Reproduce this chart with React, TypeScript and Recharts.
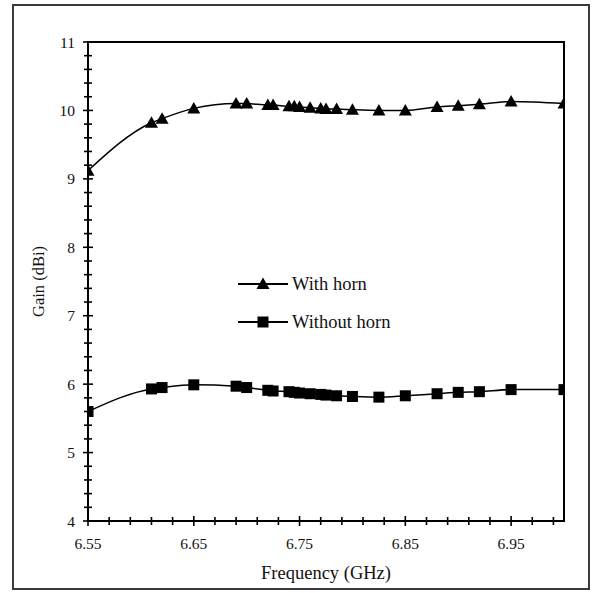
import React from 'react';
import { LineChart, Line, XAxis, YAxis, ReferenceArea, Legend, Label } from 'recharts';

const frequencies = [6.55, 6.61, 6.62, 6.65, 6.69, 6.7, 6.72, 6.725, 6.74, 6.745, 6.75, 6.76, 6.77, 6.775, 6.785, 6.8, 6.825, 6.85, 6.88, 6.9, 6.92, 6.95, 7.0];
const gainWithHorn = [9.12, 9.82, 9.88, 10.03, 10.1, 10.1, 10.08, 10.08, 10.06, 10.06, 10.05, 10.04, 10.03, 10.02, 10.02, 10.01, 10.0, 10.0, 10.05, 10.07, 10.09, 10.13, 10.1];
const gainWithoutHorn = [5.6, 5.93, 5.95, 5.99, 5.97, 5.95, 5.91, 5.9, 5.89, 5.88, 5.87, 5.86, 5.85, 5.84, 5.83, 5.82, 5.81, 5.83, 5.86, 5.88, 5.89, 5.92, 5.92];

const seriesNames = ['With horn', 'Without horn'];
const xMajorTicks = [6.55, 6.65, 6.75, 6.85, 6.95];
const xMinorTicks = [6.55, 6.57, 6.59, 6.61, 6.63, 6.65, 6.67, 6.69, 6.71, 6.73, 6.75, 6.77, 6.79, 6.81, 6.83, 6.85, 6.87, 6.89, 6.91, 6.93, 6.95, 6.97, 6.99];
const yMajorTicks = [4, 5, 6, 7, 8, 9, 10, 11];
const yMinorTicks = [4, 4.2, 4.4, 4.6, 4.8, 5, 5.2, 5.4, 5.6, 5.8, 6, 6.2, 6.4, 6.6, 6.8, 7, 7.2, 7.4, 7.6, 7.8, 8, 8.2, 8.4, 8.6, 8.8, 9, 9.2, 9.4, 9.6, 9.8, 10, 10.2, 10.4, 10.6, 10.8, 11];

const data = frequencies.map((f, i) => ({ freq: f, withHorn: gainWithHorn[i], withoutHorn: gainWithoutHorn[i] }));

const FONT = '"Liberation Serif", "Times New Roman", serif';
const TEXT = '#111';

const isIn = (arr: number[], v: number) => arr.some((t) => Math.abs(t - v) < 1e-6);

const XTick = (props: any) => {
  const { x, y, payload } = props;
  const v = payload.value;
  const major = isIn(xMajorTicks, v);
  const h = major ? 5 : 4;
  return (
    <g>
      <line x1={x} x2={x} y1={y - h} y2={y + h} stroke="#000" strokeWidth={1.6} />
      {major && (
        <text x={x} y={y + 28} textAnchor="middle" fontSize={15.5} fontFamily={FONT} fill={TEXT}>
          {v.toFixed(2)}
        </text>
      )}
    </g>
  );
};

const YTick = (props: any) => {
  const { x, y, payload } = props;
  const v = payload.value;
  const major = isIn(yMajorTicks, v);
  const h = major ? 5 : 4;
  return (
    <g>
      <line x1={x - h} x2={x + h} y1={y} y2={y} stroke="#000" strokeWidth={1.6} />
      {major && (
        <text x={x - 13} y={y + 5.5} textAnchor="end" fontSize={15.5} fontFamily={FONT} fill={TEXT}>
          {String(v)}
        </text>
      )}
    </g>
  );
};

const triangle = (cx: number, cy: number) =>
  `M${cx},${cy - 6.5} L${cx + 6.5},${cy + 5} L${cx - 6.5},${cy + 5} Z`;

const renderTriangle = (p: any) => (
  <path key={`tri-${p.index}`} d={triangle(p.cx, p.cy)} fill="#000" stroke="none" />
);
const renderSquare = (p: any) => (
  <rect key={`sq-${p.index}`} x={p.cx - 5.5} y={p.cy - 5.5} width={11} height={11} fill="#000" />
);

const LegendContent = () => (
  <svg width={200} height={60} style={{ overflow: 'visible' }}>
    <line x1={0} x2={50} y1={10} y2={10} stroke="#000" strokeWidth={2} />
    <path d={triangle(25, 10)} fill="#000" />
    <text x={54} y={16} fontSize={18.5} fontFamily={FONT} fill={TEXT}>{seriesNames[0]}</text>
    <line x1={0} x2={50} y1={48} y2={48} stroke="#000" strokeWidth={2} />
    <rect x={19.5} y={42.5} width={11} height={11} fill="#000" />
    <text x={54} y={54} fontSize={18.5} fontFamily={FONT} fill={TEXT}>{seriesNames[1]}</text>
  </svg>
);

export default function App() {
  return (
    <div style={{ position: 'absolute', left: 0, top: 0, width: 594, height: 593, background: '#fff' }}>
      <div
        style={{
          position: 'absolute',
          left: 12,
          top: 4,
          width: 574,
          height: 582,
          border: '2px solid #3a3a3a',
        }}
      />
      <div style={{ position: 'absolute', left: 0, top: 0 }}>
        <LineChart width={594} height={593} data={data} margin={{ top: 42, right: 30, bottom: 22, left: 28 }}>
          <XAxis
            dataKey="freq"
            type="number"
            domain={[6.55, 7.0]}
            ticks={xMinorTicks}
            interval={0}
            tick={<XTick />}
            tickSize={0}
            tickMargin={0}
            tickLine={false}
            axisLine={{ stroke: '#000', strokeWidth: 2 }}
            height={50}
            allowDataOverflow
          >
            <Label
              content={(p: any) => {
                const vb = p.viewBox;
                return (
                  <text x={vb.x + vb.width / 2} y={vb.y + 58} textAnchor="middle" fontSize={18.5} fontFamily={FONT} fill={TEXT}>
                    Frequency (GHz)
                  </text>
                );
              }}
            />
          </XAxis>
          <YAxis
            type="number"
            domain={[4, 11]}
            ticks={yMinorTicks}
            interval={0}
            tick={<YTick />}
            tickSize={0}
            tickMargin={0}
            tickLine={false}
            axisLine={{ stroke: '#000', strokeWidth: 2 }}
            width={60}
            allowDataOverflow
          >
            <Label
              content={(p: any) => {
                const vb = p.viewBox;
                const cx = 44;
                const cy = vb.y + vb.height / 2;
                return (
                  <text x={cx} y={cy} transform={`rotate(-90 ${cx} ${cy})`} textAnchor="middle" fontSize={16.5} fontFamily={FONT} fill={TEXT}>
                    Gain (dBi)
                  </text>
                );
              }}
            />
          </YAxis>
          <ReferenceArea x1={6.55} x2={7.0} y1={4} y2={11} fill="none" stroke="#000" strokeWidth={2} ifOverflow="visible" />
          <Legend
            layout="horizontal"
            verticalAlign="middle"
            align="center"
            content={<LegendContent />}
            wrapperStyle={{ position: 'absolute', left: 238, top: 274, width: 200, height: 60 }}
          />
          <Line
            name={seriesNames[0]}
            dataKey="withHorn"
            type="monotone"
            stroke="#000"
            strokeWidth={1.5}
            dot={renderTriangle}
            activeDot={false}
            isAnimationActive={false}
          />
          <Line
            name={seriesNames[1]}
            dataKey="withoutHorn"
            type="monotone"
            stroke="#000"
            strokeWidth={1.5}
            dot={renderSquare}
            activeDot={false}
            isAnimationActive={false}
          />
        </LineChart>
      </div>
    </div>
  );
}
